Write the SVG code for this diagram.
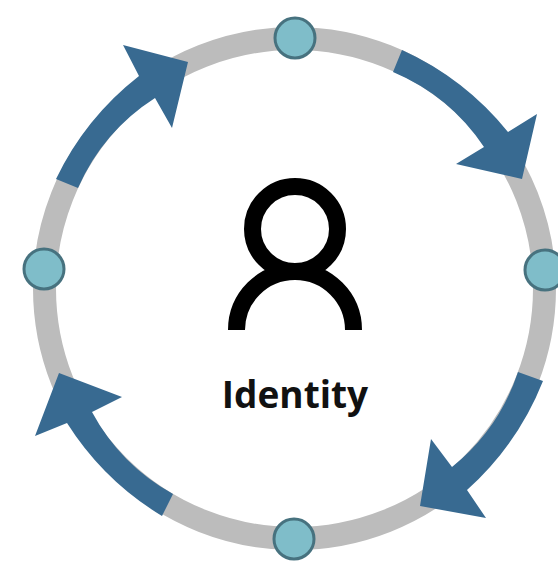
<svg xmlns="http://www.w3.org/2000/svg" width="558" height="571" viewBox="0 0 558 571">
<style>
.arrow{fill:#386a91}
.node{fill:#7fbdc9;stroke:#47727f;stroke-width:3}
.icon{fill:none;stroke:#000;stroke-width:17}
text{font-family:"Open Sans","Noto Sans",sans-serif;font-weight:700;font-size:37px;fill:#111}
</style>
<rect width="558" height="571" fill="#fff"/>
<g id="connectors">
<circle id="ring" cx="294.5" cy="288.5" r="250" fill="none" stroke="#bcbcbc" stroke-width="23"/>
<path class="arrow" d="M402 50A290 290 0 0 1 508 132L537 114L522 179L456 164L484 147A205 205 0 0 0 393 72Z"/>
<path class="arrow" d="M543 381A290 290 0 0 1 467 490L486 518L420 506L431 439L452 467A205 205 0 0 0 518 372Z"/>
<path class="arrow" d="M162 516A290 290 0 0 1 67 423L35 436L59 373L122 397L92 412A205 205 0 0 0 173 494Z"/>
<path class="arrow" d="M56 179A290 290 0 0 1 139 76L123 45L188 62L172 128L155 98A205 205 0 0 0 78 188Z"/>
</g>
<g id="node-top"><circle class="node" cx="295" cy="38" r="20"/></g>
<g id="node-right"><circle class="node" cx="545" cy="270" r="20"/></g>
<g id="node-bottom"><circle class="node" cx="294" cy="539" r="20"/></g>
<g id="node-left"><circle class="node" cx="44" cy="269" r="20"/></g>
<g id="identity">
<circle class="icon" cx="295" cy="229" r="42.5"/>
<path class="icon" d="M236.5 330A58.5 58.5 0 0 1 353.5 330"/>
<text x="295" y="408" text-anchor="middle">Identity</text>
</g>
</svg>
